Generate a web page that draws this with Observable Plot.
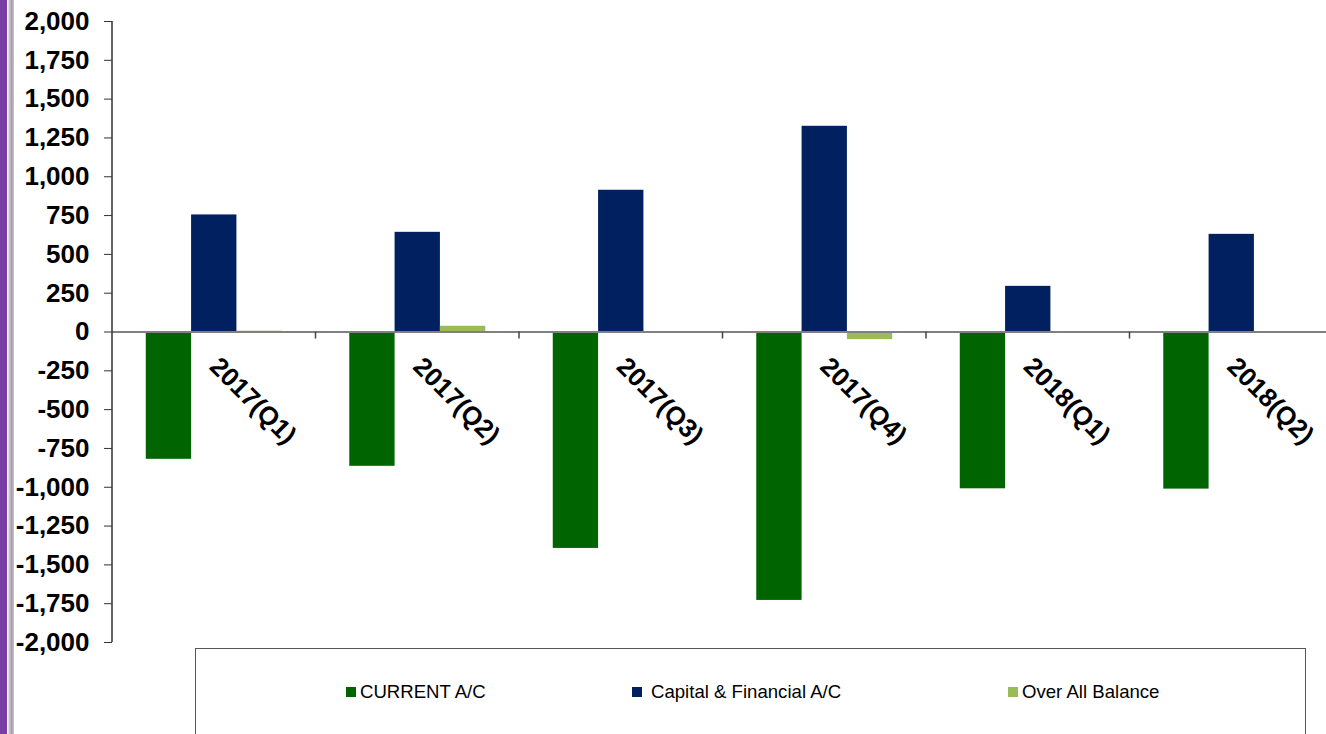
<!DOCTYPE html>
<html>
<head>
<meta charset="utf-8">
<script src="https://cdn.jsdelivr.net/npm/d3@7"></script>
<script src="https://cdn.jsdelivr.net/npm/@observablehq/plot@0.6"></script>
<style>
  html, body { margin: 0; padding: 0; background: #fff; }
  body { width: 1326px; height: 734px; overflow: hidden; position: relative; font-family: "Liberation Sans", Arial, sans-serif; }
  #chart { position: absolute; left: 0; top: 0; width: 1340px; }
  #purple { position: absolute; left: 0; top: 0; width: 7px; height: 734px; background: #7a3da6; }
  #grayband { position: absolute; left: 8px; top: 0; width: 6px; height: 734px; background: linear-gradient(to right, #e6e6e6, #a0a0a0 60%, #c8c8c8); }
  #legend { position: absolute; left: 195px; top: 648px; width: 1111px; height: 120px; border: 1.5px solid #555; box-sizing: border-box; }
  .sw { position: absolute; width: 10px; height: 10px; top: 687px; }
  .lt { position: absolute; top: 682px; line-height: 20px; font-size: 18.6px; color: #000; white-space: nowrap; }
</style>
</head>
<body>
<div id="chart"></div>
<div id="purple"></div>
<div id="grayband"></div>
<div id="legend"></div>
<div id="legend-items"></div>
<script>
const categories = ["2017(Q1)", "2017(Q2)", "2017(Q3)", "2017(Q4)", "2018(Q1)", "2018(Q2)"];
const series = ["CURRENT A/C", "Capital & Financial A/C", "Over All Balance"];
const currentAC = [-820, -865, -1394, -1729, -1010, -1012];
const capitalFinancialAC = [754, 642, 913, 1325, 294, 629];
const overAllBalance = [5, 37, -5, -49, 0, 0];
const colors = ["#006400", "#002060", "#9bbb59"];
const yTicks = [-2000, -1750, -1500, -1250, -1000, -750, -500, -250, 0, 250, 500, 750, 1000, 1250, 1500, 1750, 2000];

const seriesValues = [currentAC, capitalFinancialAC, overAllBalance];
const rows = categories.flatMap((c, i) => series.map((s, j) => ({cat: c, series: s, value: seriesValues[j][i]})));

const fmt = d3.formatLocale({decimal: ".", thousands: ",", grouping: [3], currency: ["", ""], minus: "-"}).format(",");

const plot = Plot.plot({
  width: 1340,
  height: 648,
  marginLeft: 112,
  marginRight: 7,
  marginTop: 21,
  marginBottom: 6,
  style: {fontFamily: "'Liberation Sans', Arial, sans-serif", background: "transparent", maxWidth: "none", overflow: "visible"},
  fx: {domain: categories, paddingInner: 0, paddingOuter: 0, axis: null, label: null, round: false},
  x: {domain: series, paddingInner: 0, paddingOuter: 0.745, axis: null, round: false},
  y: {domain: [-2000, 2000], ticks: yTicks, label: null},
  color: {domain: series, range: colors},
  marks: [
    Plot.barY(rows, {fx: "cat", x: "series", y: "value", fill: "series"}),
    Plot.ruleY([0], {stroke: "#808080", strokeWidth: 2}),
    Plot.axisY(yTicks, {tickFormat: fmt, tickSize: 8, tickPadding: 15, fontSize: 26, fontWeight: "bold", stroke: "#333", color: "#000", label: null}),
    Plot.text(categories, {fx: d => d, y: () => 0, text: d => d, rotate: 45, textAnchor: "start", lineAnchor: "bottom", dx: -6, dy: 36, fontSize: 26, fontWeight: "bold", fill: "#000"})
  ]
});
document.getElementById("chart").appendChild(plot);

// y-axis line and category boundary ticks, placed with the plot's own scales
const fxs = plot.scale("fx");
const ys = plot.scale("y");
const svg = d3.select(plot);
const y0 = ys.apply(0);
const xLeft = fxs.apply(categories[0]);
svg.append("line")
  .attr("x1", xLeft).attr("x2", xLeft)
  .attr("y1", ys.apply(2000)).attr("y2", ys.apply(-2000))
  .attr("stroke", "#333").attr("stroke-width", 1.5);
const bounds = categories.map(c => fxs.apply(c) + fxs.bandwidth).slice(0, -1);
svg.selectAll("line.bt").data(bounds).join("line")
  .attr("class", "bt")
  .attr("x1", d => d).attr("x2", d => d)
  .attr("y1", y0).attr("y2", y0 + 7)
  .attr("stroke", "#444").attr("stroke-width", 1.5);

// legend
const swX = [346, 632, 1008];
const txX = [360, 651, 1022];
const li = document.getElementById("legend-items");
series.forEach((s, i) => {
  const sw = document.createElement("div");
  sw.className = "sw"; sw.style.left = swX[i] + "px"; sw.style.background = colors[i];
  li.appendChild(sw);
  const t = document.createElement("div");
  t.className = "lt"; t.style.left = txX[i] + "px"; t.textContent = s;
  li.appendChild(t);
});
</script>
</body>
</html>
